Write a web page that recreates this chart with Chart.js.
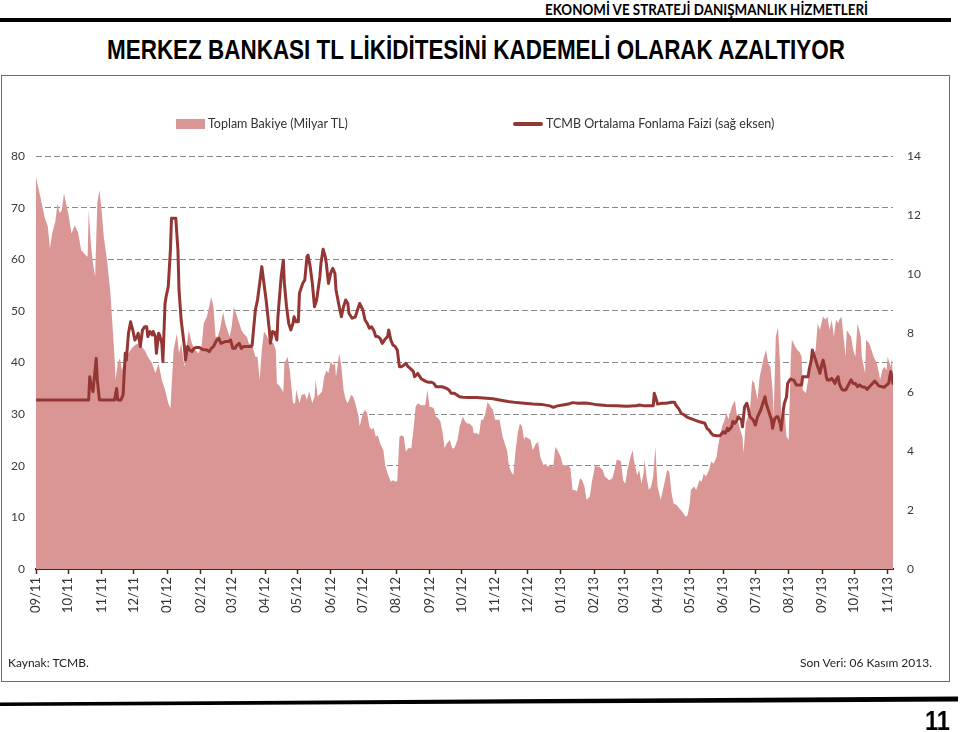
<!DOCTYPE html>
<html>
<head>
<meta charset="utf-8">
<script src="https://cdn.jsdelivr.net/npm/chart.js@4.4.1/dist/chart.umd.min.js"></script>
<style>
  html,body{margin:0;padding:0;background:#fff;}
  body{width:960px;height:732px;position:relative;overflow:hidden;font-family:Lato,"Open Sans",sans-serif;}
  .abs{position:absolute;white-space:nowrap;}
  #hdr{font:bold 14.5px Lato;top:2px;line-height:15px;color:#000;transform-origin:left center;}
  #title{font:bold 28px "Liberation Sans",Arial,sans-serif;line-height:28px;top:36px;color:#000;transform-origin:left center;}
  #box{left:1px;top:75px;width:949px;height:607px;border:1px solid #6b6b6b;box-sizing:border-box;}
  #cv{position:absolute;left:2px;top:76px;}
  .leg{font-size:12.5px;color:#333;line-height:14px;}
  .note{font-size:12px;color:#222;line-height:14px;}
  #pg{font:bold 28px "Liberation Sans",Arial,sans-serif;line-height:28px;color:#000;}
</style>
</head>
<body>
<div id="hdr" class="abs">EKONOMİ VE STRATEJİ DANIŞMANLIK HİZMETLERİ</div>
<div class="abs" style="left:0;top:18px;width:951px;height:4px;background:#000"></div>
<div id="title" class="abs">MERKEZ BANKASI TL LİKİDİTESİNİ KADEMELİ OLARAK AZALTIYOR</div>
<div id="box" class="abs"></div>
<canvas id="cv" width="946" height="604"></canvas>
<div class="abs" style="left:176px;top:119px;width:29px;height:10px;background:#D99694"></div>
<div class="abs leg" style="left:208px;top:117px">Toplam Bakiye (Milyar TL)</div>
<div class="abs" style="left:513px;top:122px;width:30px;height:4px;border-radius:2px;background:#943634"></div>
<div class="abs leg" style="left:546px;top:117px">TCMB Ortalama Fonlama Faizi (sağ eksen)</div>
<div class="abs note" style="left:8px;top:656px">Kaynak: TCMB.</div>
<div class="abs note" style="right:28px;top:656px">Son Veri: 06 Kasım 2013.</div>
<svg class="abs" style="left:0;top:690px" width="960" height="20"><polygon points="0,12.5 958,6.5 958,11.5 0,16" fill="#000"/></svg>
<div id="pg" class="abs" style="top:707px">11</div>
<script>
// ---------- DATA ----------
const monthLabels = ['09/11','10/11','11/11','12/11','01/12','02/12','03/12','04/12','05/12','06/12','07/12','08/12','09/12','10/12','11/12','12/12','01/13','02/13','03/13','04/13','05/13','06/13','07/13','08/13','09/13','10/13','11/13'];
const startDate = '2011-09-01';
const lastDate = '2013-11-06';

// Toplam Bakiye (Milyar TL) - day offsets from 2011-09-01
const bakiyeDays = [
0,4,8,11,13,15,18,20,22,24,
26,28,30,33,36,39,42,46,48,49,
51,53,55,57,59,61,63,66,69,71,
73,74,76,78,80,83,86,89,92,95,
98,101,104,108,111,114,117,120,123,125,
128,131,133,135,138,142,145,148,151,154,
156,159,161,163,165,167,169,171,174,176,
178,180,182,184,187,189,191,193,196,198,
201,204,206,208,210,212,214,217,219,221,
223,224,227,230,231,234,236,239,241,242,
245,247,250,252,254,257,259,260,262,266,
268,270,272,274,276,278,279,282,284,286,
288,290,293,295,297,300,301,304,306,308,
310,312,314,316,318,320,323,325,327,330,
332,335,336,338,340,342,344,346,349,351,
353,355,358,362,364,366,368,370,372,374,
376,378,380,382,385,387,389,392,394,397,
399,401,403,406,407,410,412,414,416,418,
420,423,425,427,429,431,434,436,438,440,
442,444,446,448,450,452,454,455,458,460,
462,465,467,469,472,474,476,478,481,483,
485,488,490,493,495,497,499,501,503,506,
508,510,512,515,517,520,522,524,527,529,
531,533,536,538,540,542,544,546,548,550,
553,555,556,559,561,563,565,566,568,570,
572,574,576,578,581,583,585,587,589,591,
593,596,598,600,602,604,606,608,609,612,
614,617,619,621,623,626,628,630,633,634,
636,638,640,642,644,647,650,652,654,657,
658,660,662,664,666,668,671,673,675,677,
679,681,683,685,686,688,690,692,693,694,
696,698,700,702,703,706,708,710,712,713,
716,718,720,722,725,727,729,732,734,736,
738,740,742,744,746,747,749,751,753,754,
756,758,760,762,764,767,768,771,772,775,
777,779,782,784,785,787,789,791,792,794,
795,796,797];
const bakiyeValues = [
75.9,72.1,68.2,66.3,62.1,65,67.3,70.8,68.9,69.5,
72.8,70.8,68.9,65,66.6,65.3,61.8,60.8,60.5,69.5,
63.1,59.2,56.6,70.8,73.4,69.5,64.4,59.9,54,47.6,
41.1,36.6,39.8,40.8,38.5,41.1,41.8,42.7,43.4,43.7,
43.1,42.4,41.1,39.8,37.9,39.8,36.6,34.7,32.1,31.1,
42.4,45.6,41.8,43.7,39.2,46.3,43.7,42.4,41.8,43.1,
47.6,48.9,50.8,52.7,50.8,45,45,46.3,49.8,47.6,
46.3,45,46.9,50.8,48.9,47.6,46.3,45.6,45,43.7,
43.4,41.1,41.1,36.6,42.4,46,45.4,44.1,44.1,43.7,
42.4,36,35.3,34.3,39.8,41.1,38.5,32.1,32.1,34.7,
32.1,33.7,33.9,32.8,34.4,32.1,33.4,36.6,33.4,34.4,
37.2,38.5,37.9,40.2,39.5,39.8,37.2,41.8,39.2,34.7,
32.8,32.1,33.7,33.4,32.1,29.5,27.6,30.2,30.8,30.2,
27.6,27,27.3,25.6,25.9,24.3,23,19.8,18.5,16.9,
17.2,16.9,17.2,25.6,25.9,25.6,22.7,23.4,23.4,26.9,
31.4,32.1,31.7,31.7,34.7,31.4,31.4,31.1,29.5,29.2,
28.6,26.6,23.4,24.3,25,23.4,23.4,25,27.6,29.5,
28.6,28.2,28.2,27.6,26.3,26.3,26,28.9,28.9,30.2,
32.4,31.4,30.8,28.9,28.9,28.9,25.6,24.3,23,19.8,
18.8,18.2,23,26.3,28.2,27.6,25,25.6,25.3,25,
23,24.3,24.6,21.7,20.1,20.4,19.8,20.1,19.8,23.7,
23,21.7,20.1,20.1,20.1,19.5,15.3,15.3,15,17.6,
17.2,16,13.4,14,16.9,20.1,19.8,19.8,19.2,17.9,
17.6,17.2,17.6,19.2,21.1,21.1,20.8,17.2,16.5,19.2,
21.8,23,21.1,18.2,19.2,16.5,18.5,21.1,17.6,15.3,
16,17.9,23.7,16,13.4,15.3,17.2,19.2,18.8,14.7,
12.7,12.4,11.8,11.4,10.8,10.1,10.4,12.7,15.3,16,
15.3,17.2,16.9,18.5,17.9,19.2,20.8,20.4,21.7,23.4,
25.6,27.6,28.6,30.2,29,31.4,32.7,29.5,27.6,25.6,
22.4,28.2,29.5,30.8,36.6,36,32.8,37.2,39.2,41.1,
42.4,39.8,39.2,34.7,29.5,45,46.9,39.8,28.9,27.6,
30.8,25.6,25,41.1,44.4,43.1,42.4,42.1,41.1,34.7,
34.1,36.6,39.8,41.1,42.4,47.6,46.3,48.9,48.3,48.9,
46.3,48.3,45,48.3,47.6,48.3,48.9,45,41.1,46.3,
45.6,45,42.4,41.1,47.6,45,41.1,37.9,44.4,43.7,
42.4,41.1,39.8,37.9,36.6,38.5,39.2,38.5,41.1,39.8,
39.2,40.8,36];

// TCMB Ortalama Fonlama Faizi (%) - right axis
const faizDays = [
0,49,50,51,53,56,57,59,73,75,
76,79,81,83,84,86,88,90,92,94,
95,97,99,101,103,104,106,108,109,111,
112,114,115,117,118,120,121,123,125,126,
130,132,133,135,138,139,141,143,145,147,
149,152,155,159,161,163,165,168,170,172,
176,179,181,183,185,187,189,191,193,195,
197,200,201,204,206,208,210,212,214,217,
218,220,222,224,225,227,228,230,231,233,
235,237,239,240,242,244,245,248,250,252,
253,255,257,259,261,264,265,267,269,270,
272,274,276,278,279,282,284,286,288,290,
291,294,297,299,301,304,306,308,310,312,
314,316,318,320,322,324,327,328,330,332,
334,336,338,340,342,344,346,348,351,352,
354,355,358,360,363,365,368,370,372,375,
377,379,382,384,386,389,394,397,403,410,
416,425,431,439,447,454,462,470,478,481,
485,490,495,499,504,509,513,520,530,540,
549,558,561,566,574,575,577,578,582,586,
591,594,595,598,600,603,605,608,611,614,
617,622,624,626,628,630,633,636,637,639,
641,643,644,647,648,650,652,653,656,657,
659,661,662,664,667,669,671,674,676,678,
679,682,684,685,687,689,690,692,693,695,
696,698,699,701,702,705,707,710,712,713,
716,718,719,721,722,724,726,727,729,731,
732,734,735,736,738,740,741,743,744,746,
747,749,750,753,755,757,758,760,762,764,
766,768,771,773,775,778,780,782,784,787,
789,791,793,794,795,797];
const faizValues = [
5.73,5.73,6.52,6.29,6.01,7.14,6.41,5.73,5.73,6.12,
5.73,5.73,5.9,7.31,7.08,7.99,8.38,8.1,7.76,7.88,
7.99,7.54,8.1,8.21,8.21,7.88,8.05,7.93,8.05,7.88,
7.31,7.99,7.93,7.65,7.03,9.0,9.23,9.57,10.81,11.89,
11.89,10.81,9.46,8.44,7.54,7.08,7.54,7.42,7.37,7.48,
7.51,7.51,7.44,7.42,7.37,7.48,7.54,7.76,7.82,7.65,
7.71,7.71,7.76,7.48,7.48,7.59,7.65,7.48,7.54,7.54,
7.54,7.54,7.59,8.78,9.12,9.68,10.25,9.68,9.12,8.1,
7.65,8.05,8.02,7.76,8.55,9.46,9.91,10.47,9.68,8.89,
8.33,8.1,8.33,8.55,8.38,8.38,9.35,9.68,9.8,10.59,
10.64,10.25,9.68,8.89,9.12,9.91,10.36,10.84,10.59,10.36,
9.68,10.02,10.19,10.02,9.46,8.89,8.55,8.89,9.12,9.0,
8.67,8.5,8.55,8.78,9.0,8.78,8.44,8.33,8.16,8.21,
8.1,7.88,7.88,7.82,7.65,7.76,7.88,8.1,7.76,7.59,
7.54,7.42,6.86,6.86,6.91,6.97,6.86,6.8,6.69,6.52,
6.58,6.63,6.46,6.41,6.35,6.33,6.33,6.29,6.18,6.18,
6.18,6.16,6.12,6.07,5.96,5.96,5.84,5.82,5.81,5.81,
5.8,5.77,5.73,5.68,5.64,5.62,5.59,5.58,5.53,5.48,
5.53,5.56,5.59,5.64,5.62,5.63,5.62,5.58,5.54,5.53,
5.52,5.53,5.56,5.53,5.53,5.96,5.73,5.59,5.62,5.62,
5.65,5.65,5.56,5.42,5.28,5.22,5.16,5.11,5.07,5.03,
4.99,4.94,4.77,4.71,4.6,4.53,4.52,4.52,4.56,4.65,
4.6,4.77,4.69,4.82,5.0,4.94,5.05,5.16,5.05,4.82,
5.5,5.62,5.5,5.16,5.05,4.88,5.16,5.39,5.62,5.84,
5.62,5.28,5.05,4.77,5.1,5.16,5.16,4.94,4.71,5.39,
5.62,5.84,6.29,6.41,6.44,6.39,6.24,6.24,6.24,6.52,
6.52,6.52,6.75,7.08,7.42,7.2,6.97,6.86,6.63,6.97,
7.08,6.75,6.52,6.41,6.41,6.46,6.41,6.29,6.41,6.52,
6.29,6.12,6.07,6.07,6.2,6.35,6.41,6.29,6.29,6.18,
6.24,6.18,6.16,6.09,6.18,6.29,6.37,6.29,6.2,6.18,
6.16,6.24,6.29,6.52,6.69,6.29];

const leftTicks = [0,10,20,30,40,50,60,70,80];
const rightTicks = [0,2,4,6,8,10,12,14];
// ---------- END DATA ----------

const DAY = 86400000;
const t0 = Date.parse(startDate + 'T00:00:00Z');
const monthDays = monthLabels.map(l => {
  const [m, y] = l.split('/').map(Number);
  return Math.round((Date.UTC(2000 + y, m - 1, 1) - t0) / DAY);
});
const lastDay = Math.round((Date.parse(lastDate + 'T00:00:00Z') - t0) / DAY);

function fitWidth(el, left, w) {
  el.style.left = left + 'px';
  const cur = el.getBoundingClientRect().width;
  el.style.transformOrigin = 'left center';
  el.style.transform = 'scaleX(' + (w / cur) + ')';
}
fitWidth(document.getElementById('hdr'), 545, 323);
fitWidth(document.getElementById('title'), 107, 738);
fitWidth(document.getElementById('pg'), 925, 25);

Chart.defaults.font.family = 'Lato, "Open Sans", sans-serif';
Chart.defaults.color = '#3a3a3a';

const bakiyeData = bakiyeDays.map((d, i) => ({ x: d, y: bakiyeValues[i] }));
const faizData = faizDays.map((d, i) => ({ x: d, y: faizValues[i] }));

new Chart(document.getElementById('cv'), {
  type: 'line',
  data: {
    datasets: [
      {
        label: 'TCMB Ortalama Fonlama Faizi (sağ eksen)',
        data: faizData, yAxisID: 'y1', order: 0,
        borderColor: '#943634', borderWidth: 3, pointRadius: 0, tension: 0,
        fill: false, borderJoinStyle: 'round', borderCapStyle: 'round'
      },
      {
        label: 'Toplam Bakiye (Milyar TL)',
        data: bakiyeData, yAxisID: 'y', order: 1,
        backgroundColor: '#D99694', borderColor: '#D99694', borderWidth: 0,
        pointRadius: 0, tension: 0, fill: 'origin'
      }
    ]
  },
  options: {
    responsive: false, animation: false, parsing: false, normalized: true,
    layout: { padding: { top: 80, left: 0, right: 0, bottom: 0 } },
    plugins: { legend: { display: false }, tooltip: { enabled: false } },
    scales: {
      x: {
        type: 'linear', min: 0, max: lastDay,
        afterBuildTicks: s => { s.ticks = monthDays.map(v => ({ value: v })); },
        ticks: {
          autoSkip: false, maxRotation: 90, minRotation: 90, padding: 3,
          callback: (v, i) => monthLabels[i],
          font: { size: 13 }, color: '#333'
        },
        grid: { drawOnChartArea: false, drawTicks: true, tickLength: 5, tickColor: '#3a2c2c', tickWidth: 1.5 },
        border: { display: true, color: '#3a2c2c', width: 2 },
        afterFit: s => { s.height = 111; }
      },
      y: {
        position: 'left', min: 0, max: 80,
        afterBuildTicks: s => { s.ticks = leftTicks.map(v => ({ value: v })); },
        ticks: { padding: 11, font: { size: 12 }, color: '#3a3a3a' },
        grid: { color: c => (c.tick && c.tick.value === 0) ? 'rgba(0,0,0,0)' : '#8a8a8a', lineWidth: 1, drawTicks: false },
        border: { display: false, dash: [6, 3] },
        afterFit: s => { s.width = 34; }
      },
      y1: {
        position: 'right', min: 0, max: 14,
        afterBuildTicks: s => { s.ticks = rightTicks.map(v => ({ value: v })); },
        ticks: { padding: 14, font: { size: 12 }, color: '#3a3a3a' },
        grid: { display: false, drawTicks: false },
        border: { display: false },
        afterFit: s => { s.width = 55; }
      }
    }
  }
});
</script>
</body>
</html>
